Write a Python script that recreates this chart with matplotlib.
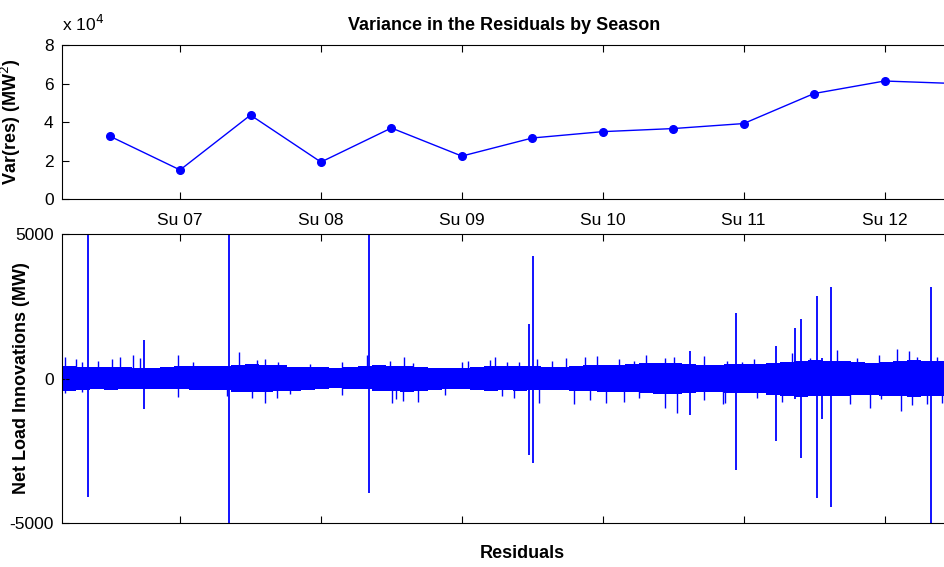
import numpy as np
import matplotlib
matplotlib.use("Agg")
import matplotlib.pyplot as plt
from matplotlib.ticker import FuncFormatter

plt.rcParams['font.family'] = ['Liberation Sans', 'DejaVu Sans']
plt.rcParams['axes.unicode_minus'] = False

# --- top panel: variance of residuals per half season ---
season_x = [6.5, 7.0, 7.5, 8.0, 8.5, 9.0, 9.5, 10.0, 10.5, 11.0, 11.5, 12.0, 12.5]
season_var = [32700, 15100, 43600, 19200, 36900, 22300, 31700, 35000, 36600,
              39200, 54800, 61300, 60000]
season_ticks = [7, 8, 9, 10, 11, 12]
season_labels = ['Su 07', 'Su 08', 'Su 09', 'Su 10', 'Su 11', 'Su 12']

# --- bottom panel: residual band, envelope read per 0.1 season bin ---
band_x = [6.16, 6.26, 6.36, 6.46, 6.56, 6.66, 6.76, 6.86, 6.96, 7.06, 7.16,
          7.26, 7.36, 7.46, 7.56, 7.66, 7.76, 7.86, 7.96, 8.06, 8.16, 8.26,
          8.36, 8.46, 8.56, 8.66, 8.76, 8.86, 8.96, 9.06, 9.16, 9.26, 9.36,
          9.46, 9.56, 9.66, 9.76, 9.86, 9.96, 10.06, 10.16, 10.26, 10.36,
          10.46, 10.56, 10.66, 10.76, 10.86, 10.96, 11.06, 11.16, 11.26, 11.36,
          11.46, 11.56, 11.66, 11.76, 11.86, 11.96, 12.06, 12.16, 12.26, 12.36]
band_hi = [430, 400, 390, 410, 400, 380, 370, 390, 440, 420, 430, 440, 470, 490,
           480, 450, 410, 390, 400, 380, 410, 440, 450, 430, 420, 400, 380, 370,
           380, 390, 430, 440, 420, 430, 400, 400, 440, 460, 470, 480, 510, 530,
           520, 520, 490, 470, 480, 510, 500, 490, 540, 580, 620, 630, 600, 590,
           560, 550, 570, 600, 630, 610, 600]
band_lo = [-430, -400, -370, -390, -370, -380, -360, -370, -380, -390, -400,
           -410, -450, -460, -450, -430, -420, -400, -360, -340, -350, -360,
           -430, -440, -460, -440, -390, -380, -370, -390, -420, -410, -430,
           -410, -400, -410, -430, -440, -450, -470, -480, -500, -520, -530,
           -490, -470, -470, -490, -500, -510, -560, -600, -630, -620, -600,
           -590, -560, -570, -590, -620, -630, -600, -600]

# small protrusions out of the band
up_x = [6.183, 6.261, 6.302, 6.416, 6.515, 6.574, 6.664, 6.716, 6.986, 7.092,
        7.417, 7.547, 7.604, 7.696, 7.923, 8.148, 8.328, 8.491, 8.591, 8.655,
        9.0, 9.045, 9.202, 9.237, 9.320, 9.403, 9.533, 9.640, 9.742, 9.876,
        9.959, 10.113, 10.219, 10.310, 10.445, 10.504, 10.717, 10.883, 10.989,
        11.072, 11.344, 11.474, 11.664, 11.806, 11.960, 12.090, 12.173, 12.232,
        12.374]
up_val = [745, 670, 580, 620, 660, 755, 810, 700, 800, 560, 915, 640, 660, 560,
          500, 570, 810, 600, 755, 520, 570, 620, 640, 740, 570, 560, 670, 620,
          710, 745, 780, 670, 620, 810, 700, 745, 780, 620, 560, 670, 890, 720,
          990, 720, 810, 1020, 960, 760, 740]
dn_x = [6.183, 6.302, 6.986, 7.331, 7.509, 7.604, 7.687, 7.781, 8.148, 8.503,
        8.534, 8.584, 8.688, 8.882, 9.285, 9.367, 9.545, 9.793, 9.912, 10.026,
        10.153, 10.255, 10.445, 10.528, 10.722, 10.854, 10.871, 11.096, 11.273,
        11.758, 11.900, 11.972, 12.114, 12.197, 12.303, 12.410]
dn_val = [-500, -480, -630, -620, -680, -840, -680, -540, -570, -840, -720, -770,
          -800, -570, -600, -690, -840, -880, -750, -840, -800, -690, -1030,
          -1200, -760, -890, -840, -680, -800, -880, -1030, -720, -1110, -930,
          -880, -840]

# large outliers (x, max, min)
spike_x = [6.349, 6.742, 7.346, 8.344, 9.474, 9.507, 10.617, 10.944, 11.233,
           11.368, 11.408, 11.522, 11.558, 11.619, 12.327]
spike_hi = [6000, 1330, 6000, 6000, 1885, 4250, 950, 2255, 1125, 1760, 2070,
            2855, 700, 3180, 3180]
spike_lo = [-4090, -1055, -6000, -3970, -2650, -2935, -1260, -3165, -2160, -700,
            -2740, -4145, -1400, -4460, -6000]

fig = plt.figure(figsize=(9.45, 5.67), dpi=100)
ax1 = fig.add_axes([0.0656, 0.649, 0.936, 0.2716])
ax2 = fig.add_axes([0.0656, 0.0776, 0.936, 0.5097], sharex=ax1)

# top panel
ax1.plot(season_x, season_var, color='blue', linewidth=1.0, marker='o',
         markersize=5.5)
ax1.set_xlim(6.162, 12.44)
ax1.set_ylim(0, 80000)
ax1.set_yticks([0, 20000, 40000, 60000, 80000])
ax1.yaxis.set_major_formatter(FuncFormatter(lambda v, p: '%d' % round(v / 1e4)))
ax1.set_xticks(season_ticks)
ax1.set_xticklabels(season_labels)
ax1.set_title('Variance in the Residuals by Season', fontsize=13,
              fontweight='bold', pad=11)
ax1.set_ylabel('Var(res) (MW$^2$)', fontsize=13, fontweight='bold')
ax1.yaxis.set_label_coords(-0.044, 0.5)
ax1.text(0.0, 1.07, 'x 10$^4$', transform=ax1.transAxes, fontsize=12.5,
         ha='left', va='bottom')
ax1.tick_params(axis='x', pad=10)

# bottom panel
ax2.bar(band_x, np.array(band_hi) - np.array(band_lo), bottom=band_lo,
        width=0.1, align='edge', color='blue', linewidth=0)
ax2.vlines(up_x, 0, up_val, color='blue', linewidth=1.0)
ax2.vlines(dn_x, dn_val, 0, color='blue', linewidth=1.0)
ax2.vlines(spike_x, spike_lo, spike_hi, color='blue', linewidth=1.3)
ax2.set_ylim(-5000, 5000)
ax2.set_yticks([-5000, 0, 5000])
ax2.set_ylabel('Net Load Innovations (MW)', fontsize=13, fontweight='bold')
ax2.yaxis.set_label_coords(-0.036, 0.5)
ax2.set_xlabel('Residuals', fontsize=13, fontweight='bold')
ax2.xaxis.set_label_coords(0.52, -0.075)
ax2.tick_params(labelbottom=False)

for ax in (ax1, ax2):
    ax.tick_params(direction='in', top=True, right=False, length=5,
                   labelsize=12.5, width=0.8)
    ax.tick_params(axis='y', pad=6)
    ax.spines['right'].set_visible(False)
    for s in ('top', 'bottom', 'left'):
        ax.spines[s].set_linewidth(0.8)

fig.savefig('out.png', dpi=100)
